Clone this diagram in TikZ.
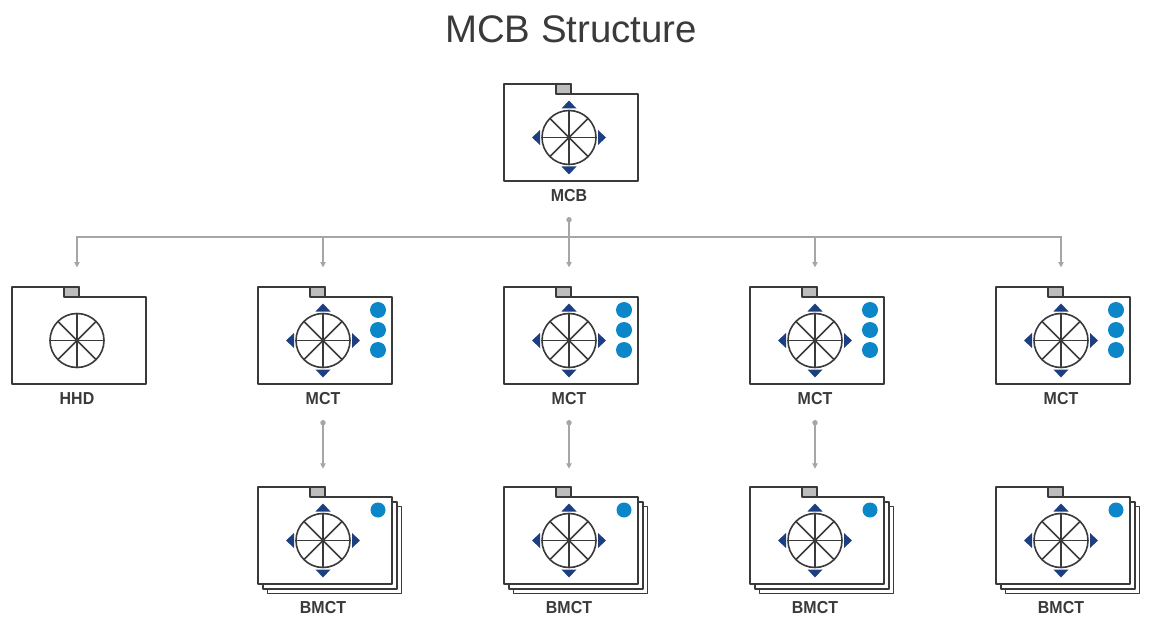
\documentclass[tikz,border=0pt]{standalone}
\usepackage{fontspec}
\setmainfont{Liberation Sans}
\usetikzlibrary{arrows.meta}
\definecolor{tabgray}{HTML}{BDBDBD}
\definecolor{linegray}{HTML}{A6A6A6}
\definecolor{inkgray}{HTML}{3A3A3A}
\definecolor{arrowblue}{HTML}{1B3F80}
\definecolor{dotblue}{HTML}{0B86C9}
\tikzset{
 pixels/.style={x=.75pt,y=-.75pt},
 folderline/.style={draw=inkgray,line width=1.2pt,line join=round},
 wheel/.style={circle,draw=inkgray,line width=1.2pt,minimum size=40.5pt,inner sep=0},
 unitlabel/.style={font=\bfseries\fontsize{13}{15}\selectfont,text=inkgray,inner sep=0,xscale=.92},
 link/.style={draw=linegray,line width=.8pt},
 dotlink/.style={link,{Circle[length=4pt]}-{Triangle[length=4pt,width=4pt]}},
 buslink/.style={link,-{Triangle[length=4pt,width=4pt]}},
}
% name, x, top, label, label drop
\newcommand{\folderunit}[5]{
 \begin{scope}[shift={(#2,#3)}]
 \draw[folderline,fill=white] (-65,0) -- (2,0) -- (2,10) -- (69,10) -- (69,97) -- (-65,97) -- cycle;
 \draw[folderline,line width=.9pt,fill=tabgray] (-13,0) rectangle (2,10);
 \node[wheel] (#1) at (0,53.5) {};
 \foreach \a in {0,45,...,315}
  \draw[draw=inkgray,line width=1.2pt] (#1.center) -- ++(\a:27);
 \node[unitlabel] (#1l) at (0,#5) {#4};
 \end{scope}
}
\newcommand{\unitarrows}[2]{
 \begin{scope}[shift={(#1,#2+53.5)}]
 \foreach \a in {0,90,180,270}
  \fill[arrowblue,rotate=\a] (-7.5,-29) -- (0,-37) -- (7.5,-29) -- cycle;
 \end{scope}
}
\newcommand{\unitstack}[2]{
 \begin{scope}[shift={(#1,#2)}]
 \draw[folderline,fill=white] (-55.5,19.5) rectangle (78.5,106.5);
 \draw[folderline,fill=white] (-60.2,14.8) rectangle (73.8,101.8);
 \end{scope}
}

\begin{document}
\begin{tikzpicture}[pixels]
\useasboundingbox (0,0) rectangle (1154,631);
\def\rowb{287}
\def\rowc{487}

\node[font=\fontsize{28.8}{32}\selectfont,text=inkgray,inner sep=0] (title) at (571,29) {MCB Structure};

% top unit
\folderunit{mcb}{569}{84}{MCB}{112}
\unitarrows{569}{84}

% middle row
\folderunit{hhd}{77}{\rowb}{HHD}{112}
\foreach \n/\x in {mcta/323,mctb/569,mctc/815,mctd/1061}{
 \folderunit{\n}{\x}{\rowb}{MCT}{112}
 \unitarrows{\x}{\rowb}
 \foreach \y in {23,43,63}
  \fill[dotblue] (\x+55,\rowb+\y) circle (8);
}

% bottom row
\foreach \n/\x in {bmcta/323,bmctb/569,bmctc/815,bmctd/1061}{
 \unitstack{\x}{\rowc}
 \folderunit{\n}{\x}{\rowc}{BMCT}{121}
 \unitarrows{\x}{\rowc}
 \fill[dotblue] (\x+55,\rowc+23) circle (7.5);
}

% links
\coordinate (bus) at (569,237);
\foreach \n in {hhd,mcta,mctc,mctd}
 \draw[buslink,shorten >=34pt] (bus) -| (\n.north);
\draw[dotlink,shorten <=11pt,shorten >=34pt] (mcbl.south) -- (mctb.north);
\foreach \n/\m in {mcta/bmcta,mctb/bmctb,mctc/bmctc}
 \draw[dotlink,shorten <=11pt,shorten >=33pt] (\n l.south) -- (\m.north);
\end{tikzpicture}
\end{document}
